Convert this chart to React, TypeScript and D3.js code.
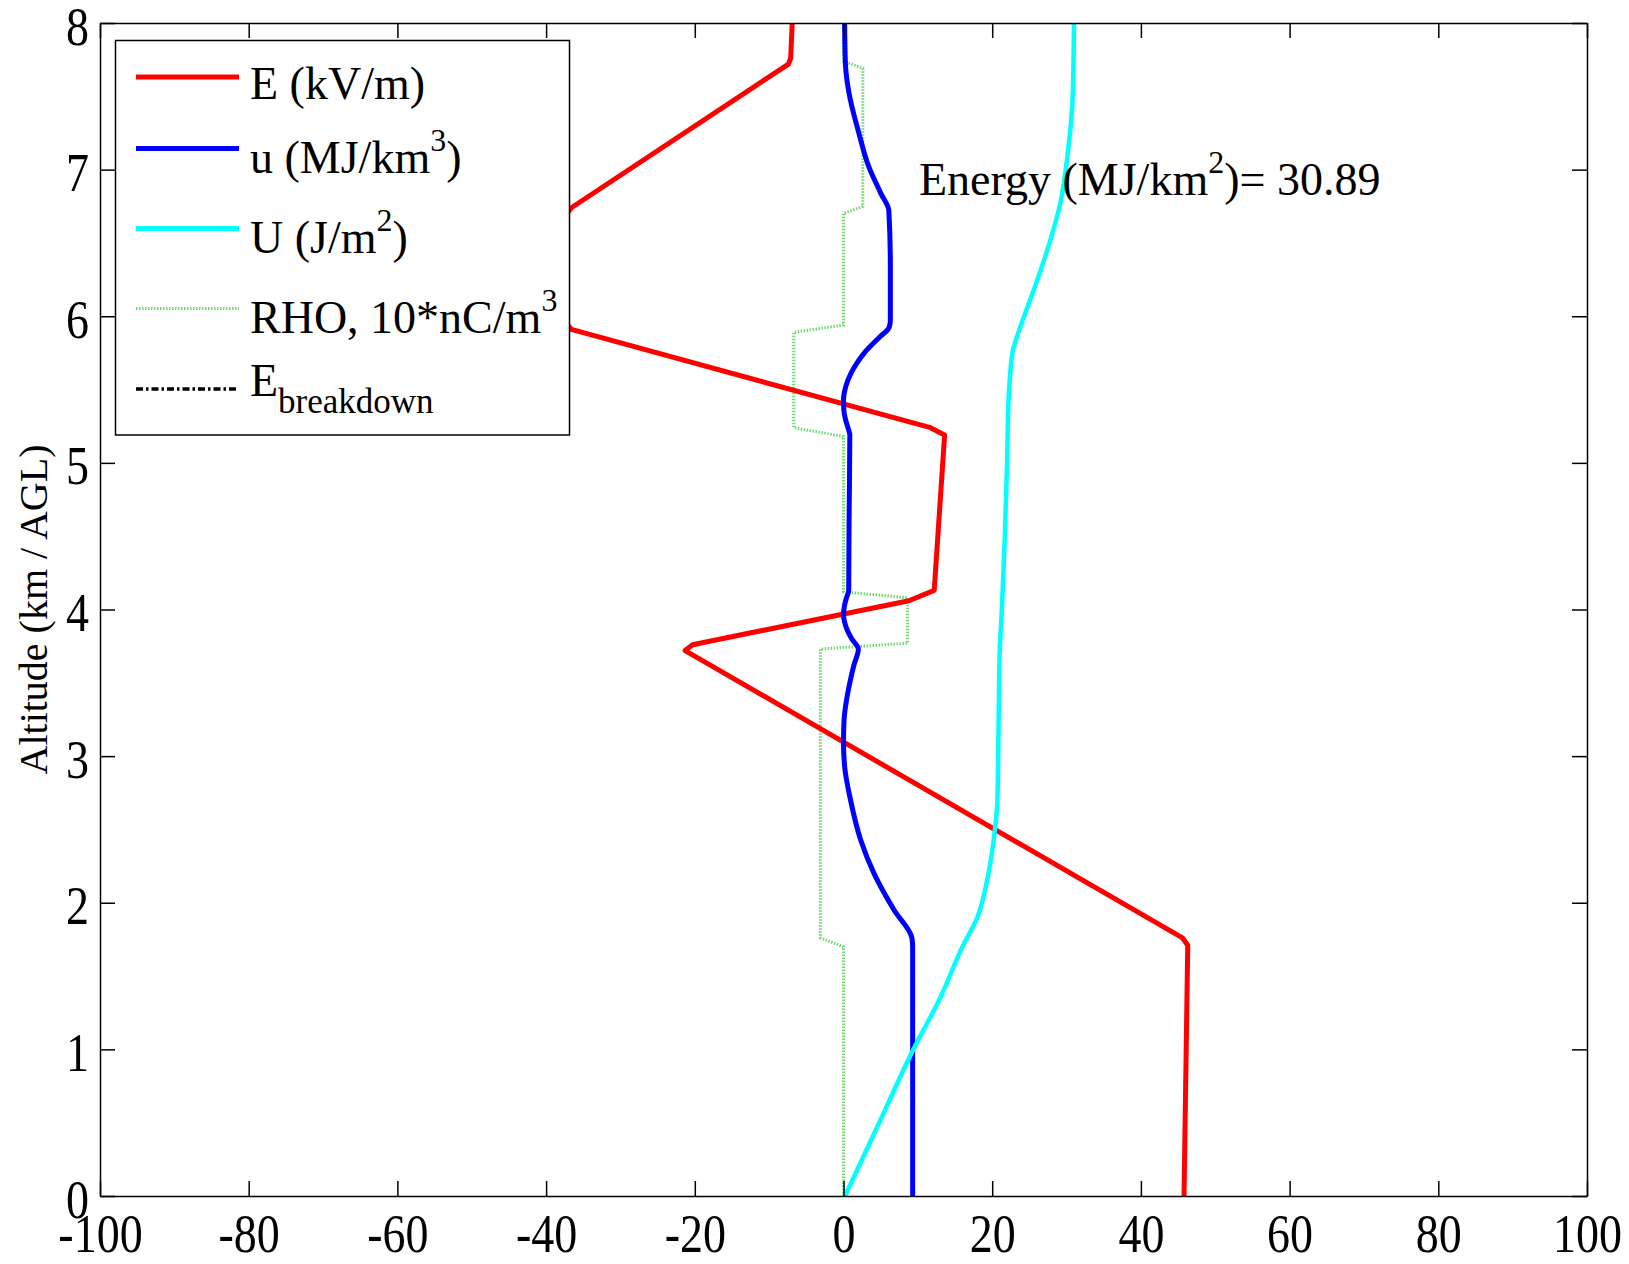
import { useEffect, useRef } from "react";
import * as d3 from "d3";

const WIDTH = 1629;
const HEIGHT = 1264;

// E (kV/m) against altitude (km)
const eAlt = [0, 1.71, 1.76, 3.72, 3.76, 4.06, 4.13, 5.19, 5.24, 5.91, 5.95, 6.70, 6.74, 7.72, 7.76, 8.0];
const eVal = [45.8, 46.3, 45.6, -21.3, -20.3, 8.8, 12.2, 13.6, 11.7, -36.6, -37.2, -37.2, -36.6, -7.4, -7.1, -6.9];

// u (MJ/km^3)
const uAlt = [0, 1.70, 1.76, 1.95, 2.20, 2.43, 2.70, 2.93, 3.10, 3.25, 3.38, 3.50, 3.62, 3.73, 3.80, 3.86, 3.92, 3.97, 4.03, 4.08, 4.13, 4.60, 5.19, 5.24, 5.30, 5.36, 5.43, 5.52, 5.61, 5.68, 5.75, 5.86, 5.92, 5.97, 6.35, 6.72, 6.84, 7.02, 7.25, 7.52, 7.72, 8.0];
const uVal = [9.3, 9.3, 9.2, 6.8, 4.1, 2.3, 0.95, 0.15, 0.0, 0.08, 0.4, 0.85, 1.4, 2.0, 1.1, 0.5, 0.12, 0.0, 0.15, 0.4, 0.7, 0.75, 0.85, 0.6, 0.25, 0.05, 0.0, 0.3, 1.0, 1.8, 2.8, 4.9, 6.1, 6.3, 6.3, 6.1, 5.0, 3.4, 2.06, 0.75, 0.26, 0.15];

// U (J/m^2)
const bigUAlt = [0, 0.5, 1.0, 1.34, 1.70, 1.90, 2.15, 2.43, 2.70, 3.0, 3.38, 3.7, 4.0, 4.5, 5.0, 5.43, 5.6, 5.77, 5.93, 6.18, 6.45, 6.78, 7.13, 7.47, 8.0];
const bigUVal = [0.2, 4.8, 9.4, 12.9, 16.0, 18.0, 19.3, 20.2, 20.7, 20.8, 20.9, 21.0, 21.3, 21.7, 22.0, 22.2, 22.4, 22.8, 23.8, 25.6, 27.4, 29.2, 30.2, 30.8, 31.0];

// RHO, 10*nC/m^3
const rhoAlt = [0, 1.70, 1.76, 3.73, 3.77, 4.08, 4.12, 5.18, 5.24, 5.89, 5.94, 6.70, 6.75, 7.69, 7.74, 8.0];
const rhoVal = [0, 0, -3.1, -3.1, 8.6, 8.6, 0, 0, -6.7, -6.7, 0, 0, 2.6, 2.6, 0, 0];

const xTicks = [-100, -80, -60, -40, -20, 0, 20, 40, 60, 80, 100];
const yTicks = [0, 1, 2, 3, 4, 5, 6, 7, 8];

const FONT = "'Liberation Serif', 'Times New Roman', serif";

export default function App() {
    const svgRef = useRef<SVGSVGElement>(null);

    useEffect(() => {
        const margin = { top: 23, right: 42, bottom: 68, left: 100 };
        const svg = d3.select(svgRef.current);
        svg.selectAll("*").remove();

        const x = d3.scaleLinear().domain([-100, 100]).range([margin.left, WIDTH - margin.right]);
        const y = d3.scaleLinear().domain([0, 8]).range([HEIGHT - margin.bottom, margin.top]);

        svg.append("rect").attr("width", WIDTH).attr("height", HEIGHT).attr("fill", "#fff");

        // profiles
        const zip = (vals: number[], alts: number[]) => vals.map((v, i) => [v, alts[i]] as [number, number]);
        const straight = d3.line<[number, number]>().x(d => x(d[0])).y(d => y(d[1]));
        const smooth = d3.line<[number, number]>().x(d => x(d[0])).y(d => y(d[1])).curve(d3.curveMonotoneY);

        svg.append("path").attr("d", straight(zip(rhoVal, rhoAlt)))
            .attr("fill", "none").attr("stroke", "#6fd86f").attr("stroke-width", 3)
            .attr("stroke-dasharray", "1.5 1.5");
        svg.append("path").attr("d", straight(zip(eVal, eAlt)))
            .attr("fill", "none").attr("stroke", "#ff0000").attr("stroke-width", 5)
            .attr("stroke-linejoin", "round");
        svg.append("path").attr("d", smooth(zip(uVal, uAlt)))
            .attr("fill", "none").attr("stroke", "#0000ff").attr("stroke-width", 5)
            .attr("stroke-linejoin", "round");
        svg.append("path").attr("d", smooth(zip(bigUVal, bigUAlt)))
            .attr("fill", "none").attr("stroke", "#00ffff").attr("stroke-width", 4.5)
            .attr("stroke-linejoin", "round");

        // axes box with inward ticks on all sides
        const tick = 15;
        const stretch = 1.2; // tick labels are drawn a bit tall
        const styleAxis = (g: any) => {
            g.select(".domain").attr("stroke", "#000").attr("stroke-width", 1.5);
            g.selectAll(".tick line").attr("stroke", "#000").attr("stroke-width", 1.5);
            g.selectAll("text").attr("font-family", FONT).attr("font-size", 46).attr("fill", "#000");
        };
        svg.append("g").attr("transform", `translate(0,${y(0)})`)
            .call(d3.axisBottom(x).tickValues(xTicks).tickSizeInner(-tick).tickSizeOuter(0).tickFormat(d3.format("d")))
            .call(styleAxis)
            .selectAll(".tick text")
            .attr("y", 0).attr("dy", 0)
            .attr("transform", `translate(0,${HEIGHT - 12 - y(0)}) scale(1,${stretch})`);
        svg.append("g").attr("transform", `translate(0,${y(8)})`)
            .call(d3.axisTop(x).tickValues(xTicks).tickSizeInner(-tick).tickSizeOuter(0).tickFormat(() => ""))
            .call(styleAxis);
        svg.append("g").attr("transform", `translate(${x(-100)},0)`)
            .call(d3.axisLeft(y).tickValues(yTicks).tickSizeInner(-tick).tickSizeOuter(0).tickFormat(d3.format("d")))
            .call(styleAxis)
            .selectAll(".tick text")
            .attr("x", 0).attr("y", 0).attr("dy", 0)
            .attr("transform", `translate(-11,21) scale(1,${stretch})`);
        svg.append("g").attr("transform", `translate(${x(100)},0)`)
            .call(d3.axisRight(y).tickValues(yTicks).tickSizeInner(-tick).tickSizeOuter(0).tickFormat(() => ""))
            .call(styleAxis);
        // plain hyphen for negatives, as in the original
        svg.selectAll(".tick text").text(function () { return (d3.select(this).text() || "").replace("\u2212", "-"); });

        // y label
        svg.append("text")
            .attr("transform", `translate(33,${(y(0) + y(8)) / 2}) rotate(-90)`)
            .attr("text-anchor", "middle").attr("dominant-baseline", "central")
            .attr("font-family", FONT).attr("font-size", 40)
            .text("Altitude (km / AGL)");

        // energy annotation
        const energy = svg.append("text").attr("x", 919).attr("y", 195)
            .attr("font-family", FONT).attr("font-size", 46);
        energy.append("tspan").text("Energy (MJ/km");
        energy.append("tspan").attr("dy", -22).attr("font-size", 32).text("2");
        energy.append("tspan").attr("dy", 22).text(")= 30.89");

        // legend
        const legend = svg.append("g");
        legend.append("rect").attr("x", 115.5).attr("y", 40.5).attr("width", 454).attr("height", 394.5)
            .attr("fill", "#fff").attr("stroke", "#000").attr("stroke-width", 1.5);
        const rows = [
            { y: 77, color: "#ff0000", dash: null, width: 5 },
            { y: 148.5, color: "#0000ff", dash: null, width: 5 },
            { y: 228.5, color: "#00ffff", dash: null, width: 5 },
            { y: 308.5, color: "#6fd86f", dash: "1.5 1.5", width: 3 },
            { y: 389, color: "#000", dash: "7 3 2.5 3", width: 3.5 }
        ];
        rows.forEach(r => {
            legend.append("line").attr("x1", 136).attr("x2", 239).attr("y1", r.y).attr("y2", r.y)
                .attr("stroke", r.color).attr("stroke-width", r.width)
                .attr("stroke-dasharray", r.dash);
        });
        const addText = (yy: number) => legend.append("text").attr("x", 250).attr("y", yy)
            .attr("font-family", FONT).attr("font-size", 46);
        addText(99).text("E (kV/m)");
        const t2 = addText(173);
        t2.append("tspan").text("u (MJ/km");
        t2.append("tspan").attr("dy", -22).attr("font-size", 32).text("3");
        t2.append("tspan").attr("dy", 22).text(")");
        const t3 = addText(253);
        t3.append("tspan").text("U (J/m");
        t3.append("tspan").attr("dy", -22).attr("font-size", 32).text("2");
        t3.append("tspan").attr("dy", 22).text(")");
        const t4 = addText(333);
        t4.append("tspan").text("RHO, 10*nC/m");
        t4.append("tspan").attr("dy", -22).attr("font-size", 32).text("3");
        const t5 = addText(396);
        t5.append("tspan").text("E");
        t5.append("tspan").attr("dy", 17).attr("font-size", 35).text("breakdown");
    }, []);

    return (
        <svg ref={svgRef} width={WIDTH} height={HEIGHT}
            style={{ position: "absolute", left: 0, top: 0, display: "block" }}></svg>
    );
}
